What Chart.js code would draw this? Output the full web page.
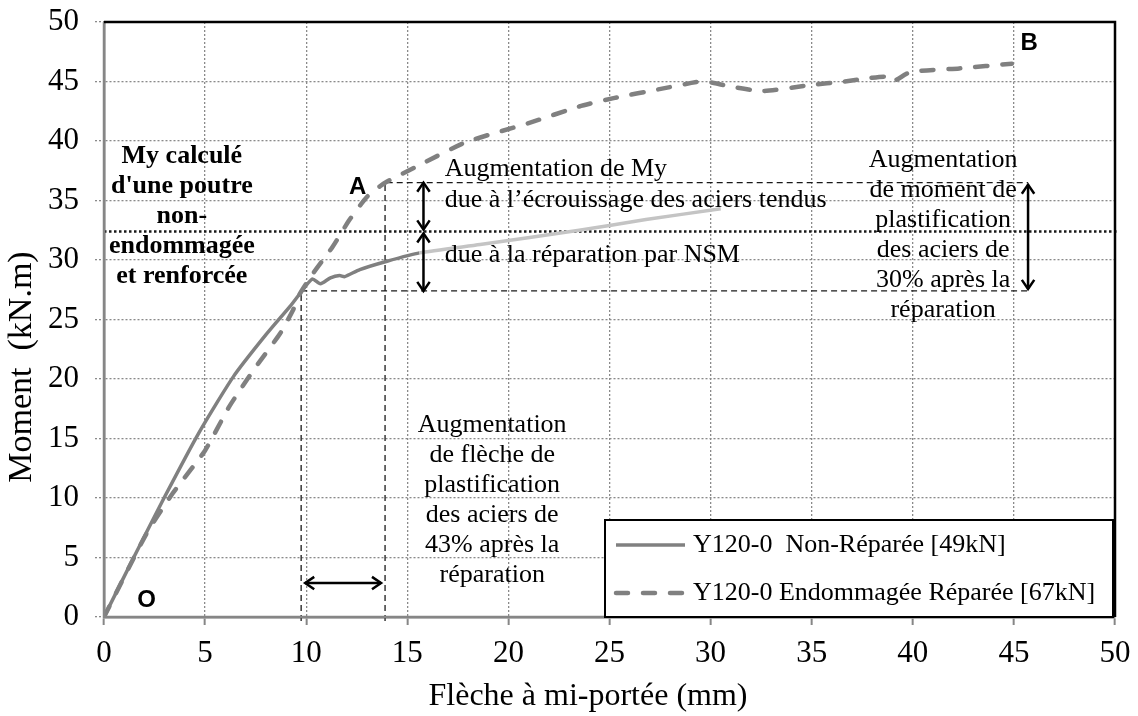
<!DOCTYPE html>
<html>
<head>
<meta charset="utf-8">
<script src="https://cdn.jsdelivr.net/npm/chart.js@4.4.1/dist/chart.umd.min.js"></script>
<style>
    html, body { margin: 0; padding: 0; background: #fff; }
    #wrap { width: 1138px; height: 716px; }
</style>
</head>
<body>
<div id="wrap"><canvas id="momentChart" width="1138" height="716"></canvas></div>
<script>
// deflection (mm) / moment (kN.m) curves
var nonRepairedX = [0, 1.5, 3.0, 4.7, 6.4, 8.0, 9.2, 9.7, 10.3, 10.7, 11.2, 11.65, 11.9, 12.65, 14.0, 15.6, 18.6, 23.5, 26.8, 30.5];
var nonRepairedY = [0, 5.1, 10.1, 15.5, 20.2, 23.7, 26.1, 27.2, 28.4, 28.0, 28.5, 28.7, 28.6, 29.2, 29.9, 30.6, 31.3, 32.5, 33.4, 34.3];

var repairedX = [0, 2.1, 3.4, 5.0, 6.2, 7.5, 8.7, 9.35, 9.7, 10.35, 11.3, 12.15, 13.0, 13.65, 14.0, 15.4, 17.9, 21.0, 23.5, 25.2, 27.6, 29.5, 30.1, 30.9, 32.6, 34.9, 36.6, 37.9, 38.7, 39.0, 39.9, 42.3, 44.9];
var repairedY = [0, 7.0, 10.4, 14.0, 17.7, 21.0, 23.8, 25.8, 27.2, 28.9, 31.1, 33.4, 35.3, 36.2, 36.6, 37.8, 39.9, 41.5, 42.9, 43.6, 44.4, 45.0, 44.9, 44.6, 44.2, 44.7, 45.0, 45.3, 45.4, 45.0, 45.8, 46.1, 46.5];

var seriesLabels = ['Y120-0  Non-Réparée [49kN]', 'Y120-0 Endommagée Réparée [67kN]'];

// yield points before / after repair and computed My
var myComputed = 32.4;
var yieldMomentBefore = 27.4;
var yieldMomentAfter = 36.5;
var yieldDeflBefore = 9.75;
var yieldDeflAfter = 13.9;

(function () {
    var COLORS = {
        curve:     '#808080',
        curveLite: '#c4c4c4',
        grid:      '#8a8a8a',
        axis:      '#868686',
        ink:       '#000000',
    };
    var SERIF = '"Liberation Serif", "Times New Roman", serif';
    var SANS = '"Liberation Sans", Arial, sans-serif';

    function toPoints(xs, ys) {
        return xs.map(function (x, i) { return { x: x, y: ys[i] }; });
    }

    function arrowHead(ctx, x, y, angle) {
        var len = 11, spread = 0.6;
        ctx.beginPath();
        ctx.moveTo(x - len * Math.cos(angle - spread), y - len * Math.sin(angle - spread));
        ctx.lineTo(x, y);
        ctx.lineTo(x - len * Math.cos(angle + spread), y - len * Math.sin(angle + spread));
        ctx.stroke();
    }

    function doubleArrow(ctx, x1, y1, x2, y2) {
        var a = Math.atan2(y2 - y1, x2 - x1);
        ctx.beginPath();
        ctx.moveTo(x1, y1);
        ctx.lineTo(x2, y2);
        ctx.stroke();
        arrowHead(ctx, x2, y2, a);
        arrowHead(ctx, x1, y1, a + Math.PI);
    }

    function textBlock(ctx, lines, x, y, step) {
        lines.forEach(function (t, i) { ctx.fillText(t, x, y + i * step); });
    }

    var guides = {
        id: 'guides',
        beforeDatasetsDraw: function (chart) {
            var ctx = chart.ctx, xs = chart.scales.x, ys = chart.scales.y, area = chart.chartArea;
            var px = function (v) { return xs.getPixelForValue(v); };
            var py = function (v) { return ys.getPixelForValue(v); };
            ctx.save();
            // thin dashed construction lines at the yield points
            ctx.strokeStyle = '#1a1a1a';
            ctx.lineWidth = 1.3;
            ctx.setLineDash([6, 4]);
            ctx.beginPath();
            ctx.moveTo(px(yieldDeflBefore), area.bottom + 4);
            ctx.lineTo(px(yieldDeflBefore), py(yieldMomentBefore));
            ctx.lineTo(px(45.7), py(yieldMomentBefore));
            ctx.moveTo(px(yieldDeflAfter), area.bottom + 4);
            ctx.lineTo(px(yieldDeflAfter), py(yieldMomentAfter));
            ctx.lineTo(px(45.7), py(yieldMomentAfter));
            ctx.stroke();
            // computed My of the undamaged strengthened beam
            ctx.lineWidth = 2.5;
            ctx.setLineDash([2.5, 2.5]);
            ctx.beginPath();
            ctx.moveTo(area.left, py(myComputed));
            ctx.lineTo(area.right + 3, py(myComputed));
            ctx.stroke();
            ctx.restore();
        },
        afterDraw: function (chart) {
            var ctx = chart.ctx, xs = chart.scales.x, ys = chart.scales.y, area = chart.chartArea;
            var px = function (v) { return xs.getPixelForValue(v); };
            var py = function (v) { return ys.getPixelForValue(v); };
            ctx.save();

            // solid gray axes, black frame on top and right
            ctx.lineWidth = 2.5;
            ctx.strokeStyle = COLORS.axis;
            ctx.beginPath();
            ctx.moveTo(area.left, area.top);
            ctx.lineTo(area.left, area.bottom);
            ctx.lineTo(area.right, area.bottom);
            ctx.stroke();
            ctx.strokeStyle = COLORS.ink;
            ctx.beginPath();
            ctx.moveTo(area.left, area.top);
            ctx.lineTo(area.right, area.top);
            ctx.lineTo(area.right, area.bottom);
            ctx.stroke();

            // arrows
            doubleArrow(ctx, px(15.8), py(yieldMomentAfter), px(15.8), py(myComputed) - 2);
            doubleArrow(ctx, px(15.8), py(myComputed) + 2, px(15.8), py(yieldMomentBefore));
            doubleArrow(ctx, px(45.7), py(yieldMomentAfter) + 2, px(45.7), py(yieldMomentBefore) - 2);
            doubleArrow(ctx, px(yieldDeflBefore) + 4, py(2.85), px(yieldDeflAfter) - 4, py(2.85));

            // notes
            ctx.fillStyle = COLORS.ink;
            ctx.textBaseline = 'middle';
            ctx.font = '26px ' + SERIF;
            ctx.textAlign = 'left';
            ctx.fillText('Augmentation de My', px(16.85), py(37.6));
            ctx.fillText('due à l\u2019écrouissage des aciers tendus', px(16.85), py(35.0));
            ctx.fillText('due à la réparation par NSM', px(16.85), py(30.4));

            ctx.textAlign = 'center';
            textBlock(ctx, ['Augmentation', 'de moment de', 'plastification', 'des aciers de', '30% après la', 'réparation'],
                px(41.5), py(38.4), 30);
            textBlock(ctx, ['Augmentation', 'de flèche de', 'plastification', 'des aciers de', '43% après la', 'réparation'],
                px(19.2), py(16.1), 30);

            ctx.font = 'bold 26px ' + SERIF;
            textBlock(ctx, ['My calculé', 'd\'une poutre', 'non-', 'endommagée', 'et renforcée'],
                px(3.85), py(38.7), 30);

            ctx.font = 'bold 24px ' + SANS;
            ctx.fillText('A', px(12.55), py(36.1));
            ctx.fillText('B', px(45.75), py(48.2));
            ctx.fillText('O', px(2.1), py(1.4));

            // axis titles
            ctx.font = '32px ' + SERIF;
            ctx.fillText('Flèche à mi-portée (mm)', 588, 697);
            ctx.font = '34px ' + SERIF;
            ctx.translate(22.5, 367);
            ctx.rotate(-Math.PI / 2);
            ctx.fillText('Moment  (kN.m)', 0, 0);
            ctx.setTransform(1, 0, 0, 1, 0, 0);

            // legend box
            var lx = 605, ly = 520, lw = area.right - 2 - lx, lh = area.bottom - ly;
            ctx.fillStyle = '#fff';
            ctx.fillRect(lx, ly, lw, lh);
            ctx.strokeStyle = COLORS.ink;
            ctx.lineWidth = 2;
            ctx.strokeRect(lx, ly, lw, lh);
            chart.data.datasets.forEach(function (ds, i) {
                var y = ly + 25 + i * 48;
                ctx.strokeStyle = ds.borderColor;
                ctx.lineWidth = ds.borderWidth;
                ctx.lineCap = ds.borderCapStyle || 'butt';
                ctx.setLineDash(ds.borderDash || []);
                ctx.beginPath();
                ctx.moveTo(lx + 11, y);
                ctx.lineTo(lx + 80, y);
                ctx.stroke();
                ctx.setLineDash([]);
                ctx.fillStyle = COLORS.ink;
                ctx.font = '26px ' + SERIF;
                ctx.textAlign = 'left';
                ctx.fillText(ds.label, lx + 88, y);
            });
            ctx.restore();
        },
    };

    new Chart(document.getElementById('momentChart'), {
        type: 'line',
        data: {
            datasets: [
                {
                    label: seriesLabels[0],
                    data: toPoints(nonRepairedX, nonRepairedY),
                    borderColor: COLORS.curve,
                    borderWidth: 3.5,
                    pointRadius: 0,
                    tension: 0.2,
                    segment: {
                        borderColor: function (c) {
                            return c.p0.parsed.x >= 15.6 ? COLORS.curveLite : COLORS.curve;
                        },
                    },
                },
                {
                    label: seriesLabels[1],
                    data: toPoints(repairedX, repairedY),
                    borderColor: COLORS.curve,
                    borderWidth: 4.5,
                    borderDash: [12, 15],
                    borderCapStyle: 'round',
                    pointRadius: 0,
                    tension: 0.2,
                },
            ],
        },
        options: {
            responsive: false,
            animation: false,
            events: [],
            layout: { padding: { left: 0, right: 23, top: 22, bottom: 0 } },
            plugins: {
                legend: { display: false },
                tooltip: { enabled: false },
            },
            scales: {
                x: {
                    type: 'linear',
                    min: 0, max: 50,
                    ticks: {
                        stepSize: 5,
                        color: COLORS.ink,
                        padding: 10,
                        maxRotation: 0,
                        font: { family: SERIF, size: 31 },
                    },
                    grid: {
                        color: COLORS.grid,
                        lineWidth: 1.3,
                        tickLength: 8,
                        tickColor: COLORS.axis,
                        tickWidth: 2,
                        tickBorderDash: [],
                    },
                    border: { color: COLORS.axis, width: 2.5, dash: [2, 2] },
                    afterFit: function (s) {
                        s.height = 99;
                        s.paddingLeft = 0;
                        s.paddingRight = 0;
                    },
                },
                y: {
                    min: 0, max: 50,
                    ticks: {
                        stepSize: 5,
                        color: COLORS.ink,
                        padding: 16,
                        font: { family: SERIF, size: 31 },
                    },
                    grid: {
                        color: COLORS.grid,
                        lineWidth: 1.3,
                        tickLength: 9,
                        tickColor: COLORS.grid,
                        tickBorderDash: [2, 2],
                    },
                    border: { color: COLORS.axis, width: 2.5, dash: [2, 2] },
                    afterFit: function (s) {
                        s.width = 104;
                        s.paddingTop = 0;
                        s.paddingBottom = 0;
                    },
                },
            },
        },
        plugins: [guides],
    });
})();
</script>
</body>
</html>
